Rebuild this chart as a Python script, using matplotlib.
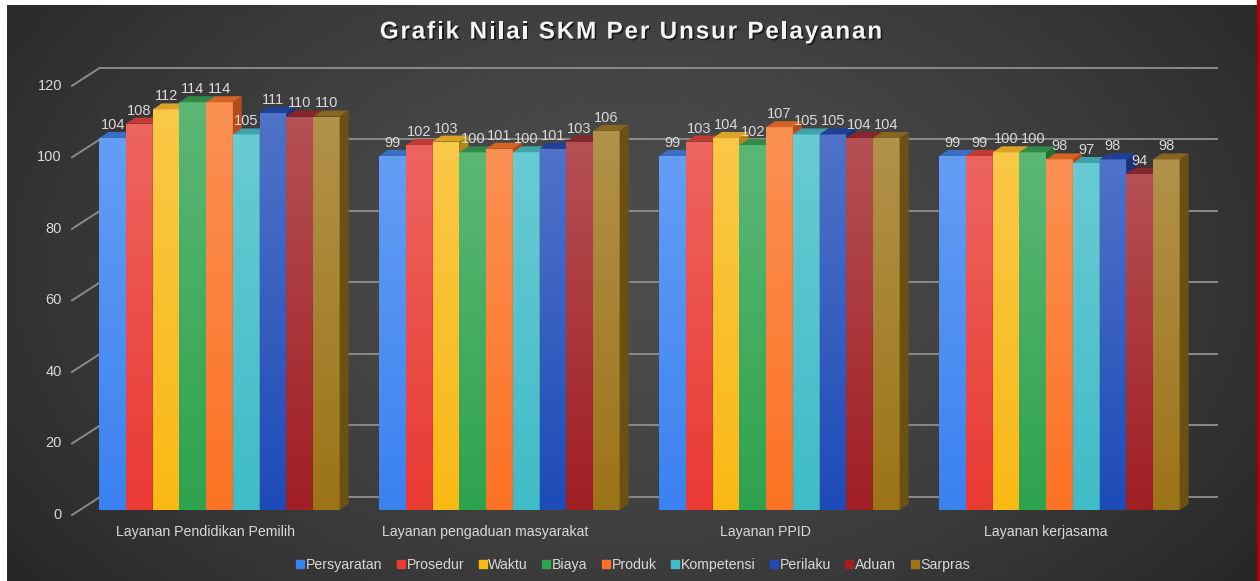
import numpy as np
import matplotlib
matplotlib.use("Agg")
import matplotlib.pyplot as plt
from matplotlib.patches import Polygon, Rectangle
from matplotlib.lines import Line2D
import matplotlib.patheffects as pe

plt.rcParams["font.family"] = ["Liberation Sans", "DejaVu Sans"]

categories = ["Layanan Pendidikan Pemilih", "Layanan pengaduan masyarakat",
              "Layanan PPID", "Layanan kerjasama"]
series = ["Persyaratan", "Prosedur", "Waktu", "Biaya", "Produk",
          "Kompetensi", "Perilaku", "Aduan", "Sarpras"]
persyaratan = [104, 99, 99, 99]
prosedur = [108, 102, 103, 99]
waktu = [112, 103, 104, 100]
biaya = [114, 100, 102, 100]
produk = [114, 101, 107, 98]
kompetensi = [105, 100, 105, 97]
perilaku = [111, 101, 105, 98]
aduan = [110, 103, 104, 94]
sarpras = [110, 106, 104, 98]
values = [persyaratan, prosedur, waktu, biaya, produk,
          kompetensi, perilaku, aduan, sarpras]
yticks = [0, 20, 40, 60, 80, 100, 120]
title = "Grafik Nilai SKM Per Unsur Pelayanan"

front = ["#3a82f0", "#e93a33", "#f9b915", "#2ea34e", "#fb7224",
         "#3fbcc6", "#1f4bb8", "#a01f24", "#9c7418"]
top = ["#3a6fc8", "#c23a33", "#d9a326", "#2f8a45", "#d56425",
       "#3fa3aa", "#1f3f98", "#86262a", "#866520"]
side = ["#2a5aa8", "#9e2d28", "#b48614", "#236e35", "#b04d1a",
        "#2f868c", "#17317a", "#6a1c1e", "#6b5014"]

W, H = 1260, 581
PX, PY = 280.0, 3.577  # px per group / px per value unit

fig = plt.figure(figsize=(12.6, 5.81), dpi=100)
fig.patch.set_facecolor("white")

# dark radial background
bg = fig.add_axes([7 / W, 0, (1257 - 7) / W, (H - 5) / H])
gx, gy = np.meshgrid(np.linspace(0, 1, 400), np.linspace(0, 1, 200))
r = np.sqrt(((gx - 0.5) / 0.62) ** 2 + ((gy - 0.45) / 0.9) ** 2)
shade = 0x4c - (0x4c - 0x27) * np.clip(r, 0, 1) ** 1.6
img = np.dstack([shade, shade, shade]) / 255.0
bg.imshow(img, aspect="auto", extent=[0, 1, 0, 1], interpolation="bilinear")
bg.axis("off")
fig.add_artist(Rectangle((1257 / W, 0), 3 / W, 1, transform=fig.transFigure,
                         color="#b00000", zorder=0))

ax = fig.add_axes([60 / W, (H - 545) / H, (1230 - 60) / W, (545 - 60) / H])
ax.set_xlim((60 - 219.5) / PX, (1230 - 219.5) / PX)
ax.set_ylim(-(545 - 510) / PY, (510 - 60) / PY)
ax.axis("off")
ax.patch.set_alpha(0)

# back wall gridlines with diagonal ticks
x_front = (72 - 219.5) / PX
x_back = (100 - 219.5) / PX
x_end = (1217 - 219.5) / PX
for v in yticks:
    yb = v + 13 / PY
    ax.plot([x_front, x_back], [v - 1.4, yb], color="#8a8a8a", lw=1.4, zorder=1)
    ax.plot([x_back, x_end], [yb, yb], color="#8a8a8a", lw=1.4, zorder=1)
    ax.text((62 - 219.5) / PX, v - 1.4, str(v), ha="right", va="center",
            fontsize=10.5, color="#d9d9d9")

# white sheen, stronger at the top of each bar
sheen = np.zeros((64, 1, 4))
sheen[..., :3] = 1.0
sheen[:, 0, 3] = np.linspace(0.22, 0.0, 64)

bw = 26.7 / PX
ddx, ddy = 9 / PX, 6 / PY
for j, name in enumerate(series):
    xs = np.arange(len(categories)) + (j - 4) * bw
    z = 3 + j * 0.1
    bars = ax.bar(xs, values[j], width=bw, color=front[j], zorder=z)
    for b, x, v in zip(bars, xs, values[j]):
        im = ax.imshow(sheen, extent=[x - bw / 2, x + bw / 2, 0, v], aspect="auto",
                       zorder=z + 0.01, interpolation="bilinear")
        im.set_clip_path(b)
        xr = x + bw / 2
        ax.add_patch(Polygon([(xr, 0), (xr + ddx, ddy), (xr + ddx, v + ddy), (xr, v)],
                             closed=True, color=side[j], lw=0, zorder=z + 0.02))
        ax.add_patch(Polygon([(x - bw / 2, v), (xr, v), (xr + ddx, v + ddy),
                              (x - bw / 2 + ddx, v + ddy)],
                             closed=True, color=top[j], lw=0, zorder=z + 0.02))
        ax.text(x, v + 3.65, str(v), ha="center", va="center",
                fontsize=10.5, color="#d9d9d9", zorder=10)
ax.set_xlim((60 - 219.5) / PX, (1230 - 219.5) / PX)
ax.set_ylim(-(545 - 510) / PY, (510 - 60) / PY)

for i, cat in enumerate(categories):
    ax.text(i - 14 / PX, -6.15, cat, ha="center", va="center",
            fontsize=10.2, color="#d9d9d9", clip_on=False)

# title with letter spacing, placed char by char
renderer = fig.canvas.get_renderer()
tkw = dict(fontsize=17.5, fontweight="bold", color="#f4f4f4")
def text_w(s):
    t = fig.text(0, 0, s, **tkw)
    w = t.get_window_extent(renderer).width
    t.remove()
    return w
bar_w = text_w("|")
track = 1.8
total = text_w(title + "|") - bar_w + track * (len(title) - 1)
x0 = 631 - total / 2
for k, ch in enumerate(title):
    if ch == " ":
        continue
    xp = x0 + text_w(title[:k] + "|") - bar_w + track * k
    fig.text(xp / W, 1 - 32 / H, ch, ha="left", va="center", **tkw,
             path_effects=[pe.withSimplePatchShadow(offset=(1.2, -1.2),
                                                    shadow_rgbFace="black", alpha=0.6)])

handles = [Line2D([], [], marker="s", ls="", color=c, markersize=6) for c in front]
fig.legend(handles, series, loc="center", bbox_to_anchor=(633 / W, 1 - 565 / H),
           ncol=9, frameon=False, fontsize=10.2, labelcolor="#d9d9d9",
           handlelength=0.6, handletextpad=0.1, columnspacing=1.0)

fig.savefig("out.png", dpi=100)
